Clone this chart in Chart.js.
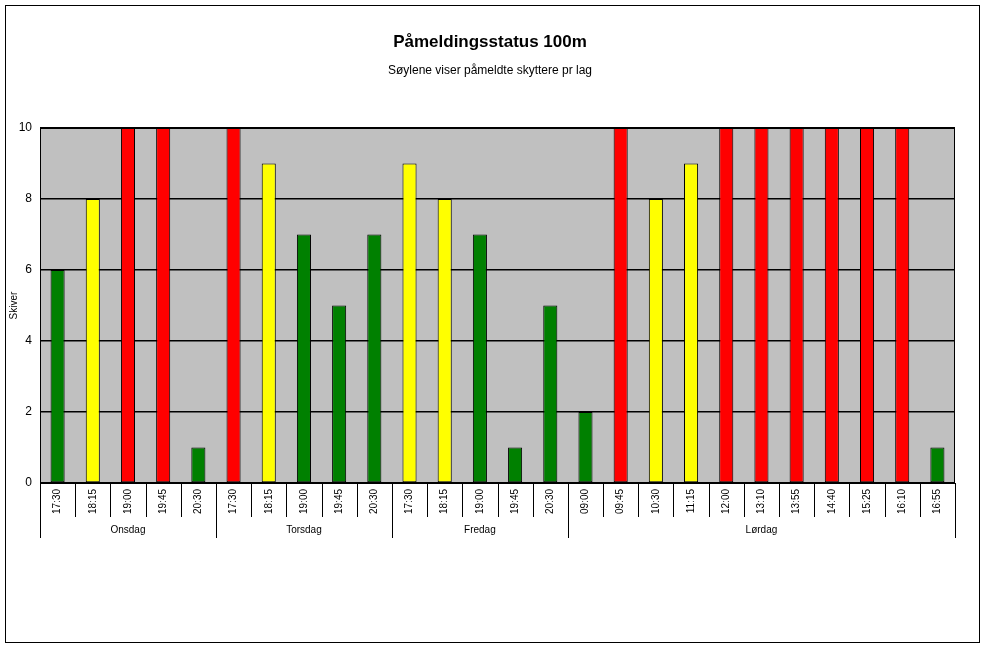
<!DOCTYPE html>
<html>
<head>
<meta charset="utf-8">
<script src="https://cdn.jsdelivr.net/npm/chart.js@4"></script>
<style>
  body { margin: 0; background: #fff; }
  #wrap { width: 985px; height: 646px; }
</style>
</head>
<body>
<div id="wrap"><canvas id="c" width="985" height="646"></canvas></div>
<script>
// Data
const times = ['17:30','18:15','19:00','19:45','20:30',
               '17:30','18:15','19:00','19:45','20:30',
               '17:30','18:15','19:00','19:45','20:30',
               '09:00','09:45','10:30','11:15','12:00','13:10','13:55','14:40','15:25','16:10','16:55'];
const days = ['Onsdag','Torsdag','Fredag','Lørdag'];
const daySizes = [5, 5, 5, 11];
const skiver = [6, 8, 10, 10, 1,
                10, 9, 7, 5, 7,
                9, 8, 7, 1, 5,
                2, 10, 8, 9, 10, 10, 10, 10, 10, 10, 1];

// colour by how full the lag is
function barColor(v) {
    if (v >= 10) return '#ff0000';
    if (v >= 8) return '#ffff00';
    return '#008000';
}

const decor = {
    id: 'decor',
    beforeDraw(chart) {
        const ctx = chart.ctx, a = chart.chartArea;
        ctx.save();
        ctx.fillStyle = '#fff';
        ctx.fillRect(0, 0, chart.width, chart.height);
        ctx.strokeStyle = '#000';
        ctx.lineWidth = 1;
        ctx.strokeRect(5.5, 5.5, 974, 637);
        ctx.fillStyle = '#c0c0c0';
        ctx.fillRect(a.left, a.top, a.right - a.left, a.bottom - a.top);
        ctx.fillStyle = '#000';
        ctx.textAlign = 'center';
        ctx.textBaseline = 'middle';
        ctx.font = 'bold 17px Arial, "Liberation Sans", sans-serif';
        ctx.fillText('Påmeldingsstatus 100m', 490, 42);
        ctx.font = '12px Arial, "Liberation Sans", sans-serif';
        ctx.fillText('Søylene viser påmeldte skyttere pr lag', 490, 71);
        ctx.restore();
    },
    afterDraw(chart) {
        const ctx = chart.ctx, a = chart.chartArea, x = chart.scales.x;
        const step = (a.right - a.left) / times.length;
        ctx.save();
        ctx.strokeStyle = '#000';
        ctx.lineWidth = 1;
        ctx.strokeRect(a.left + 0.5, a.top + 0.5, a.right - a.left - 1, a.bottom - a.top);
        // time labels
        ctx.font = '10px Arial, "Liberation Sans", sans-serif';
        ctx.fillStyle = '#000';
        ctx.textAlign = 'right';
        ctx.textBaseline = 'middle';
        times.forEach((t, i) => {
            ctx.save();
            ctx.translate(x.getPixelForValue(i), a.bottom + 6);
            ctx.rotate(-Math.PI / 2);
            ctx.fillText(t, 0, 0);
            ctx.restore();
        });
        // separators
        let start = 0;
        const bounds = [0];
        daySizes.forEach(n => { start += n; bounds.push(start); });
        for (let i = 0; i <= times.length; i++) {
            const px = Math.round(a.left + i * step) + 0.5;
            const isDay = bounds.includes(i);
            ctx.beginPath();
            ctx.moveTo(px, a.bottom);
            ctx.lineTo(px, a.bottom + (isDay ? 55 : 34));
            ctx.stroke();
        }
        ctx.textAlign = 'center';
        days.forEach((d, k) => {
            const cx = a.left + (bounds[k] + bounds[k + 1]) / 2 * step;
            ctx.fillText(d, cx, a.bottom + 47);
        });
        ctx.restore();
    }
};

new Chart(document.getElementById('c'), {
    type: 'bar',
    data: {
        labels: times,
        datasets: [{
            data: skiver,
            backgroundColor: skiver.map(barColor),
            borderColor: '#000',
            borderWidth: 1,
            borderSkipped: false,
            categoryPercentage: 1,
            barPercentage: 0.4
        }]
    },
    options: {
        responsive: false,
        animation: false,
        layout: { padding: { left: 8, right: 30, top: 128, bottom: 163 } },
        plugins: { legend: { display: false }, tooltip: { enabled: false } },
        scales: {
            x: { display: false },
            y: {
                min: 0, max: 10,
                afterFit(scale) { scale.width = 32; },
                ticks: { stepSize: 2, color: '#000', font: { size: 12, family: 'Arial, "Liberation Sans", sans-serif' }, padding: 8 },
                grid: { color: '#000', lineWidth: 1.5, drawTicks: false },
                border: { display: false },
                title: { display: true, text: 'Skiver', color: '#000', font: { size: 10 }, padding: 0 }
            }
        }
    },
    plugins: [decor]
});
</script>
</body>
</html>
